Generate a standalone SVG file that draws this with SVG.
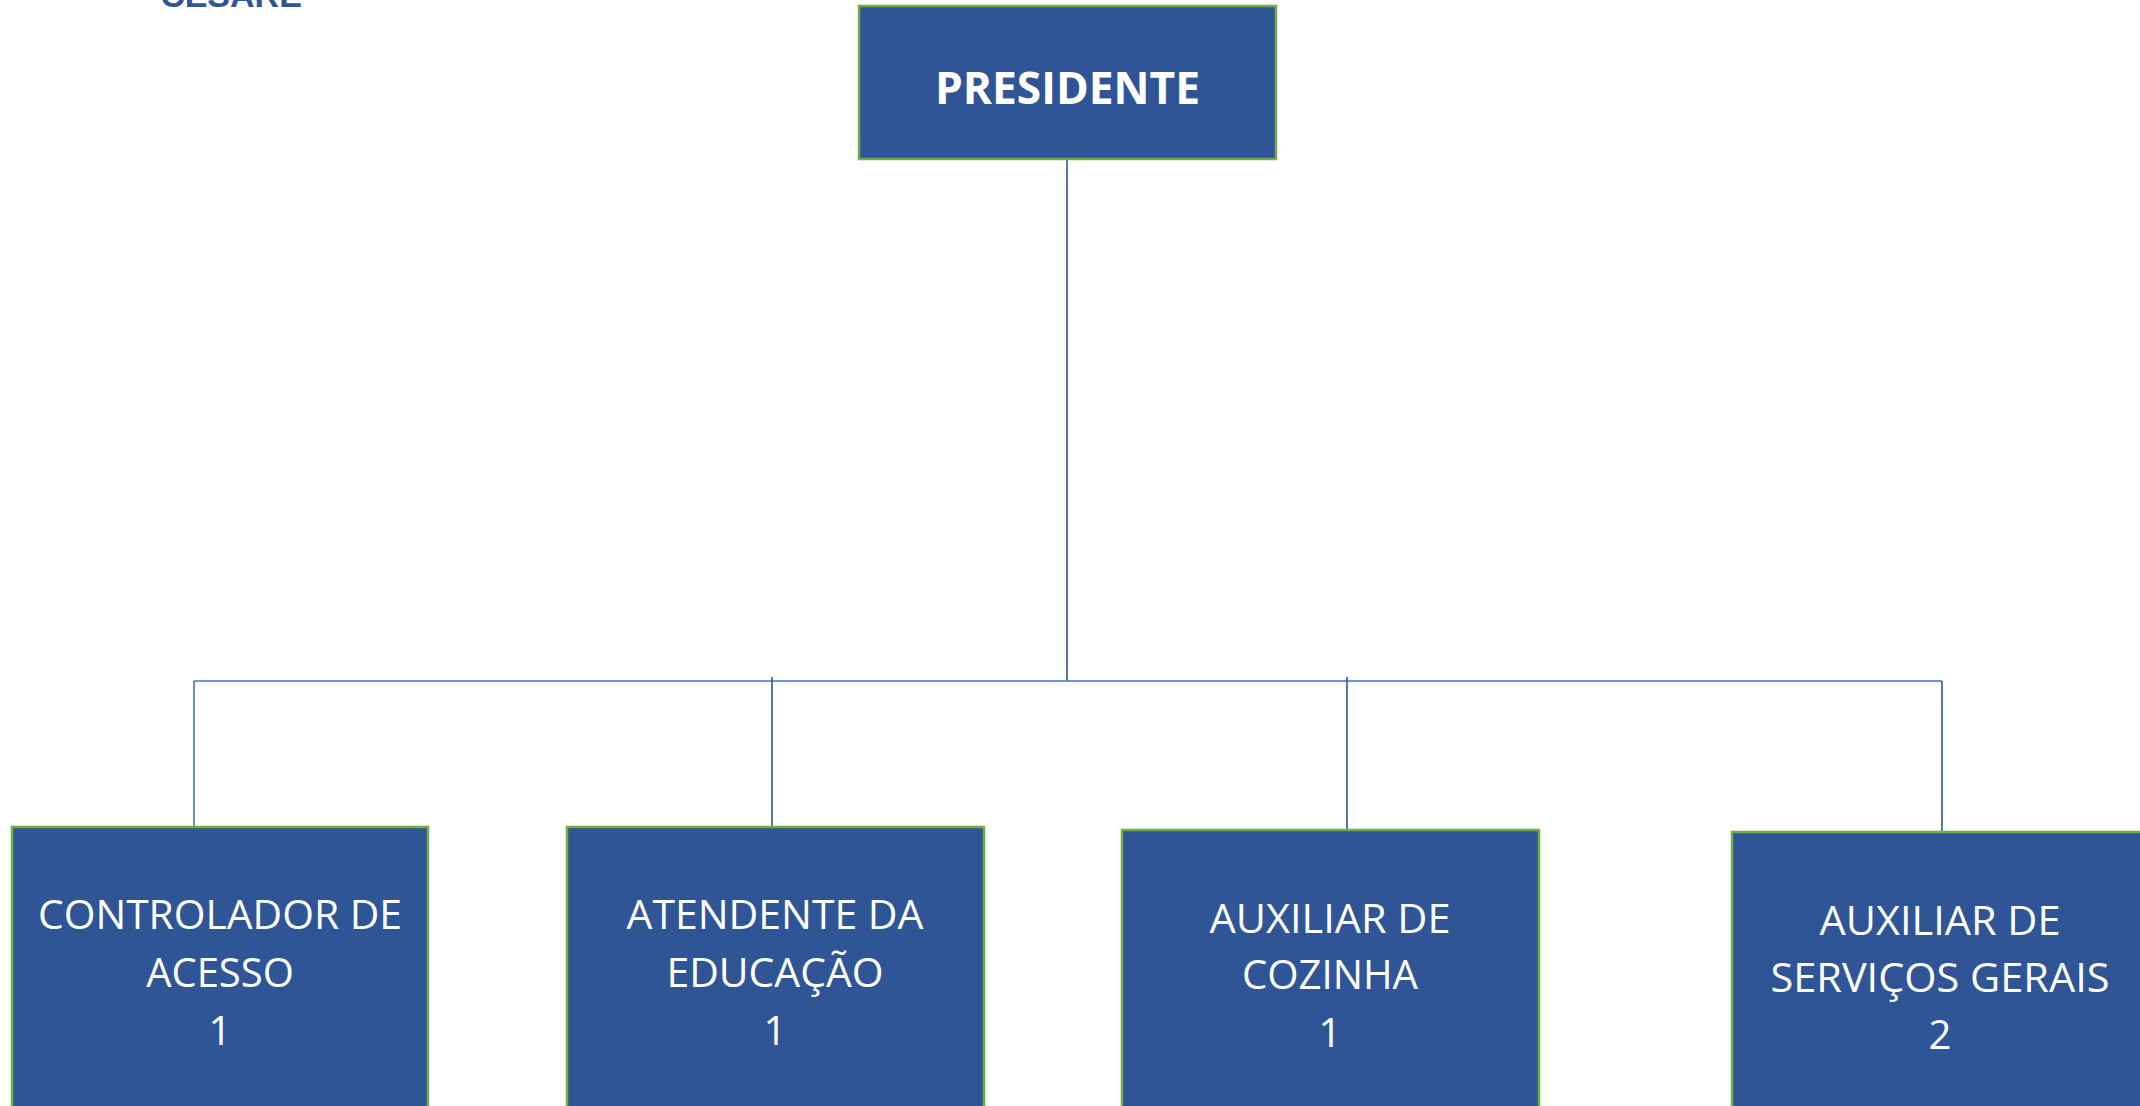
<svg xmlns="http://www.w3.org/2000/svg" width="2140" height="1106" viewBox="0 0 2140 1106">
<style>
.box{fill:#2F5597;stroke:#70AD47;stroke-width:2.5}
.lbl{fill:#FFFFFF;font-family:"Open Sans","Noto Sans",sans-serif;font-size:40px;text-anchor:middle}
.title{fill:#FFFFFF;font-family:"Open Sans","Noto Sans",sans-serif;font-size:45px;font-weight:bold;text-anchor:middle}
.lt{stroke:#4472C4;stroke-width:1.6;fill:none}
.dk{stroke:#2F5597;stroke-width:1.6;fill:none}
</style>
<rect x="0" y="0" width="2140" height="1106" fill="#FFFFFF"/>
<text x="231" y="7" fill="#2F5597" font-family="'Liberation Sans',Arial,sans-serif" font-size="34" font-weight="bold" text-anchor="middle">CESARE</text>
<g id="connectors">
<line class="dk" x1="1067" y1="159" x2="1067" y2="681"/>
<line class="lt" x1="194" y1="681" x2="1942" y2="681"/>
<line class="lt" x1="194" y1="681" x2="194" y2="837"/>
<line class="dk" x1="772" y1="677" x2="772" y2="828"/>
<line class="dk" x1="1347" y1="677" x2="1347" y2="831"/>
<line class="dk" x1="1942" y1="681" x2="1942" y2="833"/>
</g>
<g id="presidente">
<rect class="box" x="859" y="6" width="417" height="153"/>
<text class="title" x="1067.5" y="104" textLength="265" lengthAdjust="spacingAndGlyphs">PRESIDENTE</text>
</g>
<g id="controlador">
<rect class="box" x="12" y="827" width="416" height="300"/>
<text class="lbl" x="220" y="929" textLength="364" lengthAdjust="spacingAndGlyphs">CONTROLADOR DE</text>
<text class="lbl" x="220" y="987">ACESSO</text>
<text class="lbl" x="220" y="1045">1</text>
</g>
<g id="atendente">
<rect class="box" x="567" y="827" width="417" height="300"/>
<text class="lbl" x="775" y="929" textLength="297" lengthAdjust="spacingAndGlyphs">ATENDENTE DA</text>
<text class="lbl" x="775" y="987" textLength="217" lengthAdjust="spacingAndGlyphs">EDUCAÇÃO</text>
<text class="lbl" x="775" y="1045">1</text>
</g>
<g id="cozinha">
<rect class="box" x="1122" y="830" width="417" height="300"/>
<text class="lbl" x="1330" y="933" textLength="241" lengthAdjust="spacingAndGlyphs">AUXILIAR DE</text>
<text class="lbl" x="1330" y="989" textLength="176" lengthAdjust="spacingAndGlyphs">COZINHA</text>
<text class="lbl" x="1330" y="1047">1</text>
</g>
<g id="servicos">
<rect class="box" x="1732" y="832" width="417" height="300"/>
<text class="lbl" x="1940" y="935" textLength="241" lengthAdjust="spacingAndGlyphs">AUXILIAR DE</text>
<text class="lbl" x="1940" y="992" textLength="339" lengthAdjust="spacingAndGlyphs">SERVIÇOS GERAIS</text>
<text class="lbl" x="1940" y="1049">2</text>
</g>
</svg>
